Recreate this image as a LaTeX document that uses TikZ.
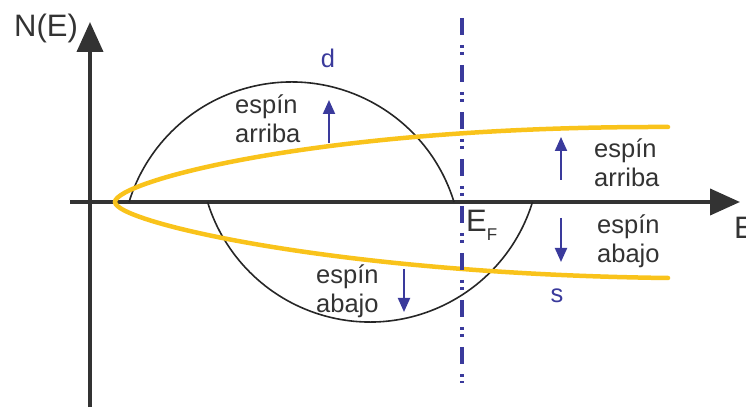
\documentclass[tikz,border=0pt]{standalone}
\usepackage{fontspec}
\setmainfont{Liberation Sans}
\usetikzlibrary{arrows.meta}
\definecolor{axisgray}{HTML}{333333}
\definecolor{sband}{HTML}{F9C31B}
\definecolor{spinblue}{HTML}{3A3A9C}

\tikzset{
  axisline/.style={axisgray, line width=4pt, -{Triangle[length=30pt,width=26pt]}},
  dband/.style={black!85, line width=1.6pt},
  sbandline/.style={sband, line width=4.5pt, line cap=round},
  efline/.style={spinblue, line width=3.2pt, dash pattern=on 17pt off 10pt on 3pt off 4pt on 3pt off 10pt},
  spinarrow/.style={spinblue, line width=2pt, -{Triangle[length=14pt,width=12pt]}},
  biglabel/.style={font=\fontsize{31}{36}\selectfont}
}

\begin{document}
\begin{tikzpicture}[x=1pt,y=1pt, every node/.style={inner sep=0pt, text=axisgray, font=\fontsize{25.5}{29}\selectfont}]
    \useasboundingbox (0,0) rectangle (746,412);

    \coordinate (xstart) at (70,210);
    \coordinate (xend) at (740,210);
    \coordinate (ystart) at (90,5);
    \coordinate (yend) at (90,390);
    \draw[axisline] (xstart) -- (xend);
    \draw[axisline] (ystart) -- (yend);

    \draw[dband] (454,210) arc[start angle=17.1, end angle=162.9, radius=170];
    \draw[dband] (532.5,210) arc[start angle=-17.1, end angle=-162.9, radius=170];

    \draw[sbandline] (668,285) .. controls (315,286) and (115,230) .. (115,210)
        .. controls (115,190) and (335,138) .. (668,134);

    \coordinate (eftop) at (462,394);
    \coordinate (efbot) at (462,29);
    \draw[efline] (eftop) -- (efbot);

    \foreach \name/\x/\ya/\yb in {ul/329/269/312, ur/561/232/275, lr/561/194/150, lm/404/143/100} {
        \coordinate (\name a) at (\x,\ya);
        \coordinate (\name b) at (\x,\yb);
        \draw[spinarrow] (\name a) -- (\name b);
    }

    \node[biglabel, anchor=base west] (ylabel) at (14,375) {N(E)};
    \node[biglabel, anchor=base west] (xlabel) at (734,173) {E};
    \node[biglabel, anchor=base west] (eflabel) at (466,180) {E\raisebox{-9pt}{\fontsize{17}{20}\selectfont F}};

    \node[anchor=base west, align=left] (ularriba) at (235,269) {espín\\arriba};
    \node[anchor=base west, align=left] (urarriba) at (594,225) {espín\\arriba};
    \node[anchor=base west, align=left] (lrabajo) at (597,149) {espín\\abajo};
    \node[anchor=base west, align=left] (lmabajo) at (316,99) {espín\\abajo};

    \node[anchor=base, text=spinblue] (dlabel) at (328,344) {d};
    \node[anchor=base, text=spinblue] (slabel) at (557,109) {s};
\end{tikzpicture}
\end{document}
